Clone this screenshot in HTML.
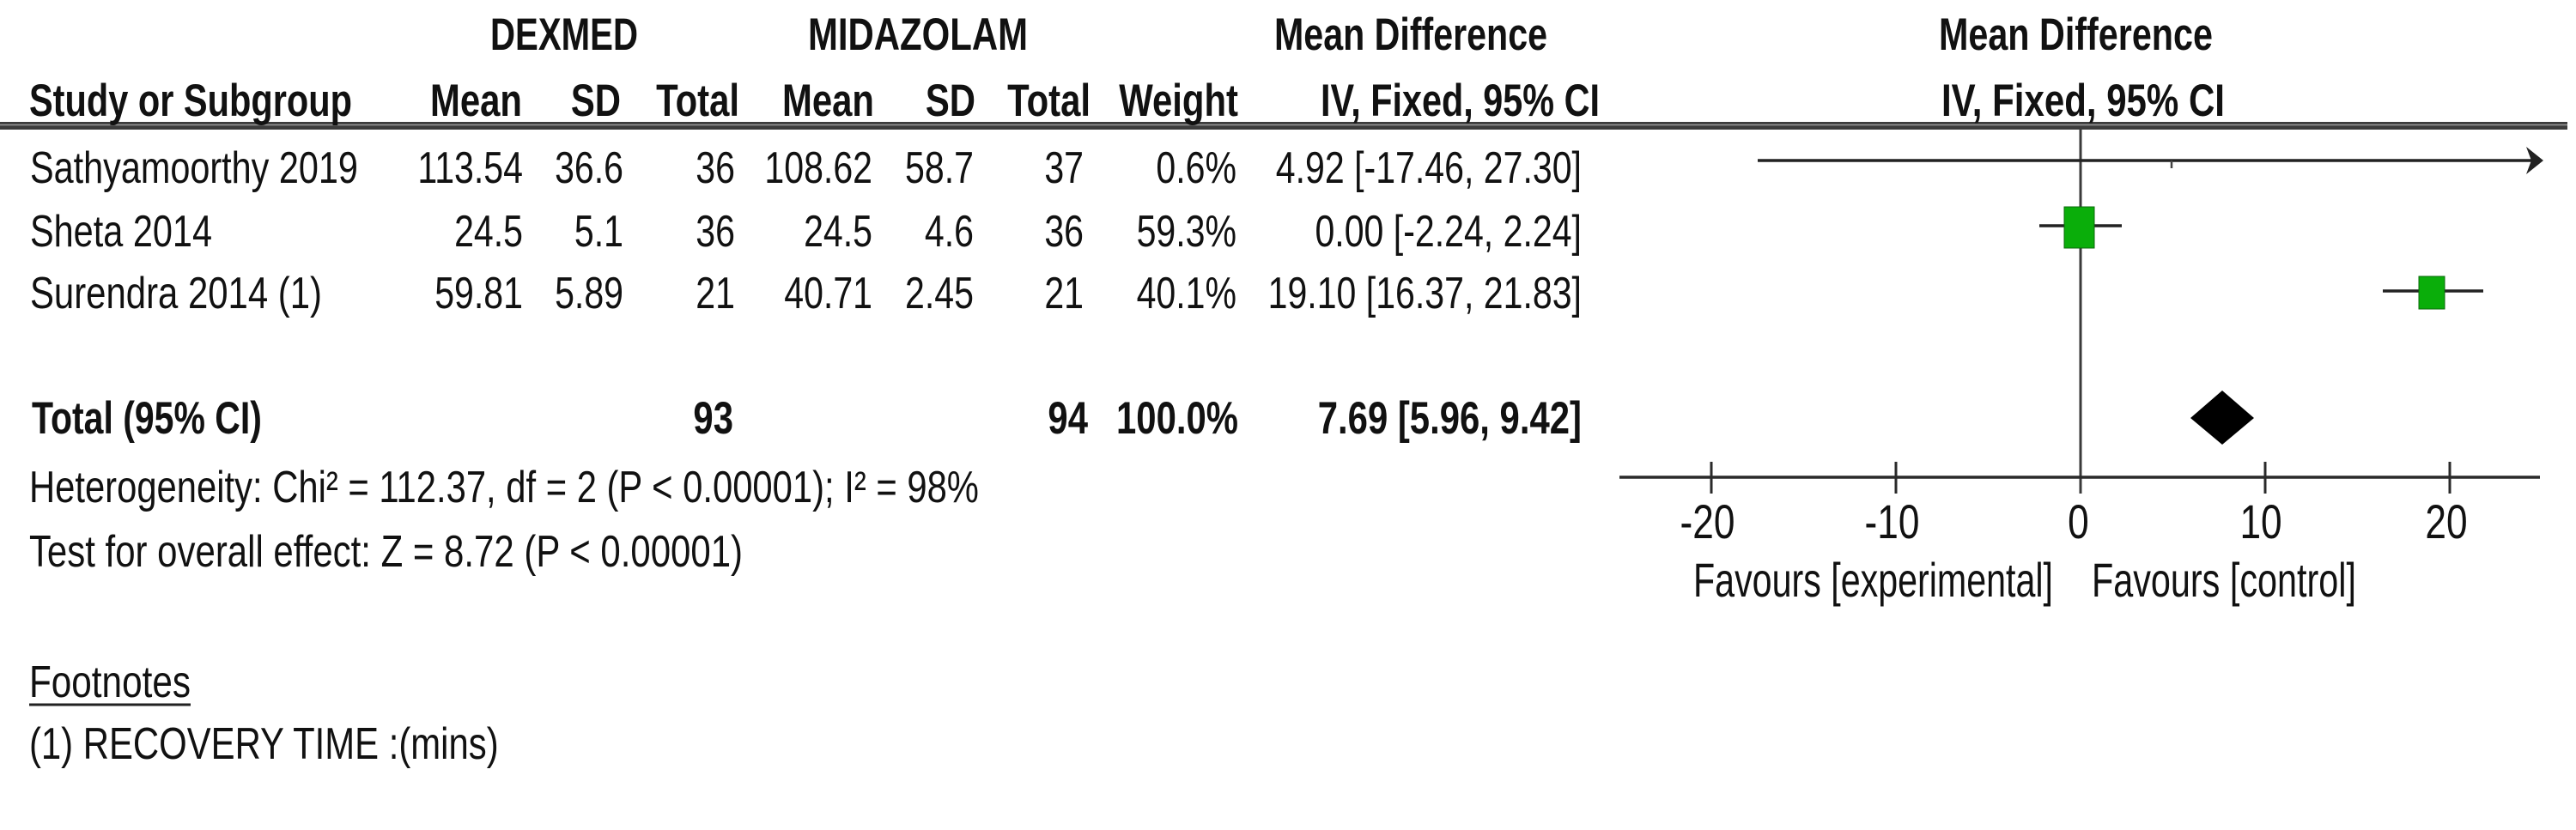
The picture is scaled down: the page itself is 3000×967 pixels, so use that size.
<!DOCTYPE html>
<html>
<head>
<meta charset="utf-8">
<style>
html,body{margin:0;padding:0;background:#fff;}
svg{display:block;}
text{font-family:"Liberation Sans",Arial,sans-serif;fill:#111;}
.b{font-weight:bold;font-size:53px;}
.r{font-size:52px;}
.t{font-size:56px;}
</style>
</head>
<body>
<svg width="3000" height="967" viewBox="0 0 3000 967" xmlns="http://www.w3.org/2000/svg">
<rect x="0" y="0" width="3000" height="967" fill="#fff"/>

<!-- double header rule -->
<rect x="0" y="142" width="2990" height="9" fill="#3c3c3c"/>
<line x1="0" y1="145.5" x2="2990" y2="145.5" stroke="#9a9a9a" stroke-width="1.5"/>

<!-- plot: zero line -->
<line x1="2423" y1="151" x2="2423" y2="575" stroke="#3a3a3a" stroke-width="3"/>
<!-- axis -->
<line x1="1886" y1="556" x2="2958" y2="556" stroke="#2a2a2a" stroke-width="3.5"/>
<g stroke="#2a2a2a" stroke-width="3">
<line x1="1993" y1="538" x2="1993" y2="575"/>
<line x1="2208" y1="538" x2="2208" y2="575"/>
<line x1="2638" y1="538" x2="2638" y2="575"/>
<line x1="2853" y1="538" x2="2853" y2="575"/>
</g>

<!-- Sathyamoorthy: arrow -->
<line x1="2047" y1="187" x2="2955" y2="187" stroke="#222" stroke-width="3.5"/>
<polygon points="2942,171 2962,187 2942,203 2948,187" fill="#222"/>
<line x1="2529" y1="187" x2="2529" y2="196" stroke="#444" stroke-width="2.5"/>

<!-- Sheta -->
<line x1="2375" y1="263" x2="2471" y2="263" stroke="#222" stroke-width="3.5"/>
<rect x="2404" y="241" width="35" height="48" fill="#0aae0a" stroke="#0a6a0a" stroke-width="1"/>

<!-- Surendra -->
<line x1="2775" y1="339" x2="2892" y2="339" stroke="#222" stroke-width="3.5"/>
<rect x="2817" y="322" width="30" height="38" fill="#0aae0a" stroke="#0a6a0a" stroke-width="1"/>

<!-- Total diamond -->
<polygon points="2551,487 2588,455 2625,487 2588,518" fill="#000"/>

<!-- footnotes underline -->
<line x1="34" y1="821" x2="222" y2="821" stroke="#222" stroke-width="3"/>

<g transform="scale(0.79 1)">
<!-- header row 1 -->
<text class="b" x="722.8" y="58" textLength="217.7" lengthAdjust="spacingAndGlyphs">DEXMED</text>
<text class="b" x="1191.1" y="58" textLength="324.1" lengthAdjust="spacingAndGlyphs">MIDAZOLAM</text>
<text class="b" x="1878.5" y="58" textLength="402.5" lengthAdjust="spacingAndGlyphs">Mean Difference</text>
<text class="b" x="2858.2" y="58" textLength="403.8" lengthAdjust="spacingAndGlyphs">Mean Difference</text>

<!-- header row 2 -->
<text class="b" x="43" y="135" textLength="476" lengthAdjust="spacingAndGlyphs">Study or Subgroup</text>
<g class="b" text-anchor="end">
<text x="769.6" y="135">Mean</text>
<text x="915.2" y="135">SD</text>
<text x="1089.9" y="135">Total</text>
<text x="1288.6" y="135">Mean</text>
<text x="1438.0" y="135">SD</text>
<text x="1607.6" y="135">Total</text>
<text x="1825.3" y="135">Weight</text>
</g>
<text class="b" x="1946.8" y="135" textLength="411.4" lengthAdjust="spacingAndGlyphs">IV, Fixed, 95% CI</text>
<text class="b" x="2862.0" y="135" textLength="417.7" lengthAdjust="spacingAndGlyphs">IV, Fixed, 95% CI</text>

<!-- data rows -->
<text class="r" x="44.3" y="213" textLength="483.5" lengthAdjust="spacingAndGlyphs">Sathyamoorthy 2019</text>
<text class="r" x="44.3" y="287" textLength="268.4" lengthAdjust="spacingAndGlyphs">Sheta 2014</text>
<text class="r" x="44.3" y="359" textLength="430.4" lengthAdjust="spacingAndGlyphs">Surendra 2014 (1)</text>

<g class="r" text-anchor="end">
<text x="770.9" y="213">113.54</text>
<text x="919.0" y="213">36.6</text>
<text x="1083.5" y="213">36</text>
<text x="1286.1" y="213">108.62</text>
<text x="1435.4" y="213">58.7</text>
<text x="1597.5" y="213">37</text>
<text x="1822.8" y="213">0.6%</text>
<text x="2331.6" y="213">4.92 [-17.46, 27.30]</text>

<text x="770.9" y="287">24.5</text>
<text x="919.0" y="287">5.1</text>
<text x="1083.5" y="287">36</text>
<text x="1286.1" y="287">24.5</text>
<text x="1435.4" y="287">4.6</text>
<text x="1597.5" y="287">36</text>
<text x="1822.8" y="287">59.3%</text>
<text x="2331.6" y="287">0.00 [-2.24, 2.24]</text>

<text x="770.9" y="359">59.81</text>
<text x="919.0" y="359">5.89</text>
<text x="1083.5" y="359">21</text>
<text x="1286.1" y="359">40.71</text>
<text x="1435.4" y="359">2.45</text>
<text x="1597.5" y="359">21</text>
<text x="1822.8" y="359">40.1%</text>
<text x="2331.6" y="359">19.10 [16.37, 21.83]</text>
</g>

<!-- total row -->
<text class="b" x="46.8" y="505" textLength="339.2" lengthAdjust="spacingAndGlyphs">Total (95% CI)</text>
<g class="b" text-anchor="end">
<text x="1081" y="505">93</text>
<text x="1603.8" y="505">94</text>
<text x="1825.3" y="505">100.0%</text>
<text x="2331.6" y="505">7.69 [5.96, 9.42]</text>
</g>

<!-- heterogeneity -->
<text class="r" x="43" y="585" textLength="1400" lengthAdjust="spacingAndGlyphs">Heterogeneity: Chi² = 112.37, df = 2 (P &lt; 0.00001); I² = 98%</text>
<text class="r" x="43" y="660" textLength="1052" lengthAdjust="spacingAndGlyphs">Test for overall effect: Z = 8.72 (P &lt; 0.00001)</text>

<!-- footnotes -->
<text class="r" x="43" y="812" textLength="238" lengthAdjust="spacingAndGlyphs">Footnotes</text>
<text class="r" x="43" y="884" textLength="692" lengthAdjust="spacingAndGlyphs">(1) RECOVERY TIME :(mins)</text>

<!-- axis labels -->
<g class="t" text-anchor="middle">
<text x="2517.1" y="627">-20</text>
<text x="2789.2" y="627">-10</text>
<text x="3063.9" y="627">0</text>
<text x="3333.0" y="627">10</text>
<text x="3606.3" y="627">20</text>
</g>
<text class="t" x="2496.2" y="695" textLength="530.4" lengthAdjust="spacingAndGlyphs">Favours [experimental]</text>
<text class="t" x="3083.5" y="695" textLength="389.9" lengthAdjust="spacingAndGlyphs">Favours [control]</text>
</g>
</svg>
</body>
</html>
